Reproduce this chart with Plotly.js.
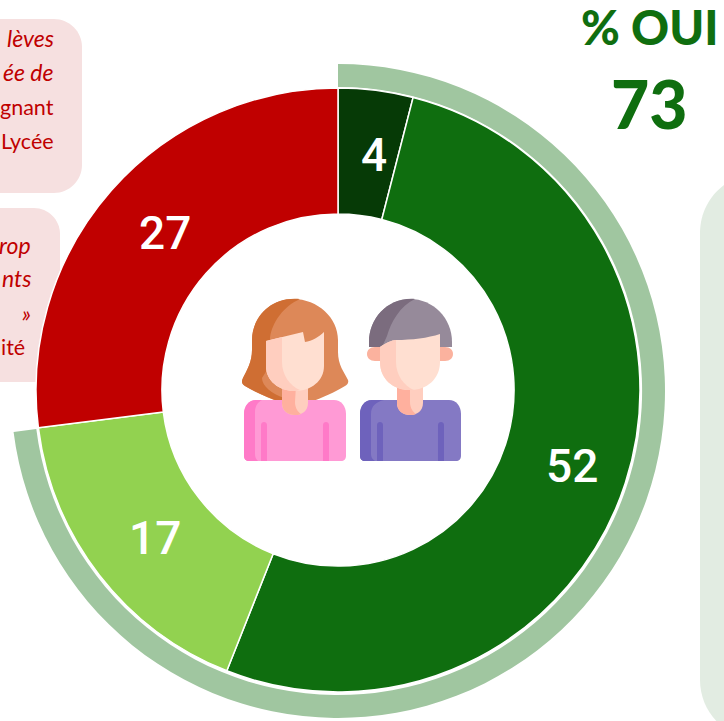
<!DOCTYPE html>
<html>
<head>
<meta charset="utf-8">
<script src="https://cdn.plot.ly/plotly-3.0.1.min.js"></script>
<style>html,body{margin:0;padding:0;background:#fff;overflow:hidden}</style>
</head>
<body>
<div id="chart" style="width:724px;height:721px"></div>
<script>
// Data
const categories = ['Tout à fait', 'Plutôt oui', 'Plutôt non', 'Pas du tout'];
const values = [4, 52, 17, 27];
const sliceColors = ['#063a06', '#0f6e0f', '#92d250', '#c00000'];
const ouiLabels = ['OUI', 'NON'];
const ouiValues = [73, 27];
const ouiTitle = '% OUI';
const ouiTotal = '73';
const box1Lines = ['lèves', 'ée de', 'gnant', 'Lycée'];
const box2Lines = ['rop', 'nts', '»', 'ité'];

const W = 724, H = 721;
const px = x => x / W;
const py = y => 1 - y / H;

function path(d) {
  return d.replace(/(-?[\d.]+)[ ,](-?[\d.]+)/g, (m, x, y) => px(+x).toFixed(5) + ',' + py(+y).toFixed(5));
}
function fill(d, color, layer) {
  return {type: 'path', xref: 'paper', yref: 'paper', path: path(d), fillcolor: color,
          line: {width: 0}, layer: layer || 'above'};
}
function roundBox(x0, y0, x1, y1, r) {
  return `M ${x0},${y0} L ${x1-r},${y0} C ${x1-r*0.45},${y0} ${x1},${y0+r*0.45} ${x1},${y0+r} ` +
         `L ${x1},${y1-r} C ${x1},${y1-r*0.45} ${x1-r*0.45},${y1} ${x1-r},${y1} L ${x0},${y1} Z`;
}
function roundLeft(x0, y0, x1, y1, r) {
  return `M ${x0+r},${y0} C ${x0+r*0.45},${y0} ${x0},${y0+r*0.45} ${x0},${y0+r} ` +
         `L ${x0},${y1-r} C ${x0},${y1-r*0.45} ${x0+r*0.45},${y1} ${x0+r},${y1} L ${x1},${y1} L ${x1},${y0} Z`;
}

const shapes = [
  fill(roundBox(-10, 19, 82, 193, 28), '#f6e0e0', 'below'),
  fill(roundBox(-10, 208, 60, 382, 26), '#f6e0e0', 'below'),
  fill(roundLeft(700, 173, 780, 740, 60), '#e2ece2', 'below'),

  // woman: hair
  fill('M 293,299 C 318,299 338,318 338,340 L 338,352 C 338,365 344,372 348,380 C 349,383 347,385 345,386 C 335,392 322,398 310,402 L 280,402 C 268,398 255,392 245,386 C 242,384 241,382 243,378 C 247,370 252,362 252,350 L 252,340 C 252,318 270,299 293,299 Z', '#dd8858'),
  fill('M 300,299 C 270,296 252,318 252,340 L 252,350 C 252,362 247,370 243,378 C 241,382 242,384 245,386 C 255,392 268,398 282,402 L 284,398 C 272,394 262,386 262,378 L 267,370 L 270,338 C 272,322 284,306 300,299 Z', '#cf6e33'),
  // woman: sweater
  fill('M 256,400 L 334,400 C 341,400 346,406 346,414 L 346,456 C 346,459 344,461 341,461 L 249,461 C 246,461 244,459 244,456 L 244,414 C 244,406 249,400 256,400 Z', '#ff9ad5'),
  fill('M 262,400 L 256,400 C 249,400 244,406 244,414 L 244,456 C 244,459 246,461 249,461 L 258,461 C 256,459 255,457 255,454 L 255,412 C 255,406 258,402 262,400 Z', '#ff7ac8'),
  fill('M 261,425 C 261,421 267,421 267,425 L 267,461 L 261,461 Z', '#ff7ac8'),
  fill('M 323,425 C 323,421 329,421 329,425 L 329,461 L 323,461 Z', '#ff7ac8'),
  // woman: neck
  fill('M 282,385 L 308,385 L 308,403 C 308,411 302,415 295,415 C 288,415 282,411 282,403 Z', '#ffcebf'),
  fill('M 282,385 L 296,385 L 295,402 C 295,408 298,412 301,414 C 299,415 297,415 295,415 C 288,415 282,411 282,403 Z', '#ffb09e'),
  // woman: face
  fill('M 266,341 L 303,332 L 305,342 C 312,341 319,337 324,332 L 324,366 C 324,381 311,391 295,391 C 279,391 266,381 266,366 Z', '#ffdfd1'),
  fill('M 266,341 L 282,337 L 282,362 C 282,375 290,386 300,390 C 298,391 296,391 295,391 C 279,391 266,381 266,366 Z', '#ffcebf'),

  // man: ears
  fill('M 375,347 C 370,347 367,350 367,354 C 367,358 370,361 375,361 L 382,361 L 382,347 Z', '#fbb29e'),
  fill('M 445,347 C 450,347 453,350 453,354 C 453,358 450,361 445,361 L 438,361 L 438,347 Z', '#fbb29e'),
  // man: hair
  fill('M 410,299 C 433,299 452,318 452,342 L 452,347 L 369,347 L 369,342 C 369,318 388,299 410,299 Z', '#968a9a'),
  fill('M 415,299 C 388,297 369,318 369,342 L 369,347 L 382,347 L 387,336 C 391,322 400,306 415,299 Z', '#7b6c7e'),
  // man: sweater
  fill('M 372,400 L 449,400 C 456,400 461,406 461,414 L 461,456 C 461,459 459,461 456,461 L 365,461 C 362,461 360,459 360,456 L 360,414 C 360,406 365,400 372,400 Z', '#8479c4'),
  fill('M 384,400 L 372,400 C 365,400 360,406 360,414 L 360,456 C 360,459 362,461 365,461 L 375,461 C 372,459 371,457 371,454 L 371,414 C 371,406 376,402 384,400 Z', '#6e62bc'),
  fill('M 377,425 C 377,421 383,421 383,425 L 383,461 L 377,461 Z', '#6e62bc'),
  fill('M 438,425 C 438,421 444,421 444,425 L 444,461 L 438,461 Z', '#6e62bc'),
  // man: neck
  fill('M 397,385 L 423,385 L 423,403 C 423,411 417,415 410,415 C 403,415 397,411 397,403 Z', '#ffcebf'),
  fill('M 397,385 L 410,385 L 410,402 C 410,408 413,412 416,414 C 414,415 412,415 410,415 C 403,415 397,411 397,403 Z', '#ffb09e'),
  // man: face
  fill('M 380,347 C 386,343 392,340 396,340 C 412,340 428,338 440,334 L 440,362 C 440,379 427,390 410,390 C 393,390 380,379 380,362 Z', '#ffdfd1'),
  fill('M 380,347 C 386,343 392,340 396,340 L 396,362 C 396,375 404,386 414,390 C 412,390 411,390 410,390 C 393,390 380,379 380,362 Z', '#ffcebf')
];

function textLine(t, x, y, italic) {
  return {
    xref: 'paper', yref: 'paper', x: px(x), y: py(y), xanchor: 'right', yanchor: 'middle',
    showarrow: false, align: 'right', borderpad: 0,
    text: italic ? '<i>' + t + '</i>' : t,
    font: {family: 'Lato, "Open Sans", sans-serif', size: italic ? 23 : 21.5, color: '#c00000'}
  };
}
const valueFont = {family: 'Roboto, sans-serif', size: 46, weight: 500, color: '#ffffff'};
const valueSpots = [[374, 155], [572, 466], [155, 538], [165, 233]];

const annotations = [
  {xref: 'paper', yref: 'paper', x: px(649.5), y: py(27), xanchor: 'center', yanchor: 'middle', showarrow: false,
   text: ouiTitle, font: {family: 'Lato, sans-serif', size: 47, weight: 900, color: '#0f6e0f'}},
  {xref: 'paper', yref: 'paper', x: px(649.5), y: py(104), xanchor: 'center', yanchor: 'middle', showarrow: false,
   text: ouiTotal, font: {family: 'Lato, sans-serif', size: 66, weight: 900, color: '#0f6e0f'}},
  textLine(box1Lines[0], 55, 38, true),
  textLine(box1Lines[1], 55, 72, true),
  textLine(box1Lines[2], 55, 107, false),
  textLine(box1Lines[3], 55, 141, false),
  textLine(box2Lines[0], 32, 245, true),
  textLine(box2Lines[1], 32, 278, true),
  textLine(box2Lines[2], 32, 313, true),
  textLine(box2Lines[3], 26, 347, false)
].concat(values.map((v, i) => ({
  xref: 'paper', yref: 'paper', x: px(valueSpots[i][0]), y: py(valueSpots[i][1]),
  xanchor: 'center', yanchor: 'middle', showarrow: false, text: String(v), font: valueFont
})));

const ring = {
  type: 'pie', labels: ouiLabels, values: ouiValues, sort: false, direction: 'clockwise', rotation: 0,
  hole: 0.93, textinfo: 'none', hoverinfo: 'none', showlegend: false,
  marker: {colors: ['#a0c6a0', 'rgba(0,0,0,0)'], line: {width: 0}},
  domain: {x: [px(11), px(665)], y: [py(718), py(64)]}
};
const donut = {
  type: 'pie', labels: categories, values: values, sort: false, direction: 'clockwise', rotation: 0,
  hole: 0.583, textinfo: 'none', showlegend: false, hoverinfo: 'label+value',
  marker: {colors: sliceColors, line: {color: '#ffffff', width: 1.5}},
  domain: {x: [px(36), px(640)], y: [py(692), py(88)]}
};

Plotly.newPlot('chart', [ring, donut], {
  width: W, height: H, margin: {l: 0, r: 0, t: 0, b: 0},
  paper_bgcolor: '#ffffff', plot_bgcolor: '#ffffff', showlegend: false,
  shapes: shapes, annotations: annotations
}, {staticPlot: true, displayModeBar: false});
</script>
</body>
</html>
